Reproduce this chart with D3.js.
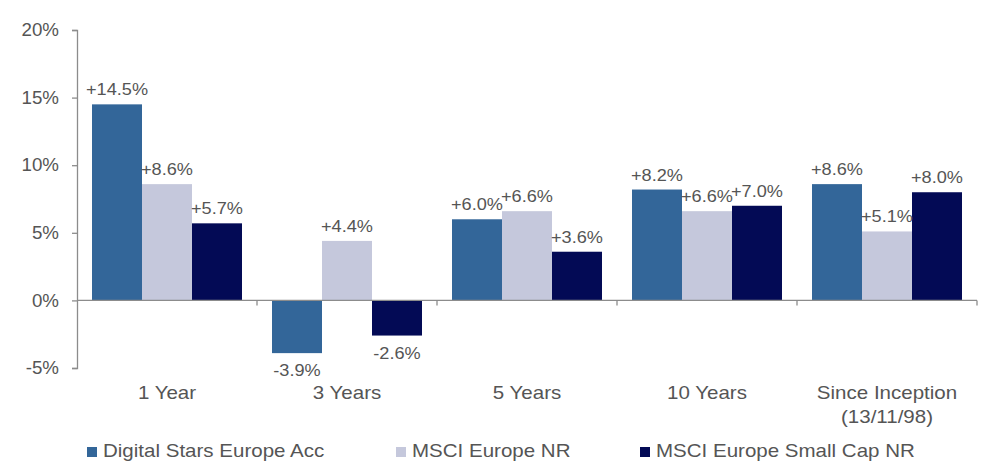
<!DOCTYPE html>
<html><head><meta charset="utf-8">
<script src="https://cdn.jsdelivr.net/npm/d3@7"></script>
<style>
body{margin:0;background:#fff;}
svg{display:block;font-family:"Liberation Sans",Arial,sans-serif;}
</style></head>
<body>
<svg id="chart" width="1008" height="475"></svg>
<script>
const categories = ["1 Year", "3 Years", "5 Years", "10 Years", "Since Inception\n(13/11/98)"];
const seriesNames = ["Digital Stars Europe Acc", "MSCI Europe NR", "MSCI Europe Small Cap NR"];
const digitalStars = [14.5, -3.9, 6.0, 8.2, 8.6];
const msciEurope = [8.6, 4.4, 6.6, 6.6, 5.1];
const msciSmallCap = [5.7, -2.6, 3.6, 7.0, 8.0];
const yTicks = [-5, 0, 5, 10, 15, 20];
const colors = ["#336699", "#c5c8dc", "#030a55"];

const series = [digitalStars, msciEurope, msciSmallCap];
const svg = d3.select("#chart");
const textColor = "#555555";
const axisColor = "#8c8c8c";

const y = d3.scaleLinear().domain([-5, 20]).range([368, 30]);
const x0 = d3.scaleBand().domain(categories).range([77, 977]).paddingInner(1/6).paddingOuter(1/12);
const x1 = d3.scaleBand().domain(d3.range(series.length)).range([0, x0.bandwidth()]);

// bars
const groups = svg.append("g").selectAll("g").data(categories).join("g")
  .attr("transform", d => `translate(${x0(d)},0)`);
groups.selectAll("rect").data((c, ci) => series.map((s, si) => ({si, v: s[ci]}))).join("rect")
  .attr("x", d => x1(d.si))
  .attr("width", x1.bandwidth())
  .attr("y", d => y(Math.max(0, d.v)))
  .attr("height", d => Math.abs(y(d.v) - y(0)))
  .attr("fill", d => colors[d.si]);

// labels (slightly wide text to match the reference's horizontal stretch)
groups.selectAll("text").data((c, ci) => series.map((s, si) => ({si, v: s[ci]}))).join("text")
  .attr("transform", d => `translate(${x1(d.si) + x1.bandwidth() / 2},${d.v >= 0 ? y(d.v) - 9 : y(d.v) + 23}) scale(1.1,1)`)
  .attr("text-anchor", "middle")
  .attr("font-size", 16.5)
  .attr("fill", textColor)
  .text(d => (d.v >= 0 ? "+" : "") + d.v.toFixed(1) + "%");

// y axis
const yAxis = d3.axisLeft(y).tickValues(yTicks).tickSize(5).tickPadding(13).tickFormat(d => d + "%");
const ga = svg.append("g").attr("transform", "translate(77,0)").call(yAxis);
ga.select(".domain").attr("stroke", axisColor).attr("stroke-width", 1.3);
ga.selectAll(".tick line").attr("stroke", axisColor).attr("stroke-width", 1.3);
ga.selectAll(".tick text").each(function() {
  const t = d3.select(this);
  const tx = +t.attr("x");
  t.attr("x", null).attr("transform", `translate(${tx},0) scale(1.07,1)`);
}).attr("font-size", 17.5).attr("fill", textColor).attr("font-family", "Liberation Sans, Arial, sans-serif");

// zero line with category ticks
svg.append("line").attr("x1", 77).attr("x2", 977).attr("y1", y(0)).attr("y2", y(0))
  .attr("stroke", axisColor).attr("stroke-width", 1.3);
const boundaries = categories.map(c => x0(c) - x0.step() * x0.paddingInner() / 2).concat([977]);
svg.append("g").selectAll("line").data(boundaries.slice(1)).join("line")
  .attr("x1", d => d).attr("x2", d => d).attr("y1", y(0)).attr("y2", y(0) + 5)
  .attr("stroke", axisColor).attr("stroke-width", 1.3);

// category labels
svg.append("g").selectAll("text").data(categories).join("text")
  .attr("transform", d => `translate(${x0(d) + x0.bandwidth() / 2},399) scale(1.14,1)`)
  .attr("text-anchor", "middle")
  .attr("font-size", 18)
  .attr("fill", textColor)
  .each(function(d) {
    const lines = d.split("\n");
    d3.select(this).selectAll("tspan").data(lines).join("tspan")
      .attr("x", 0)
      .attr("dy", (l, i) => i === 0 ? 0 : 24)
      .text(l => l);
  });

// legend
const legendX = [87, 396, 640];
const legend = svg.append("g").selectAll("g").data(seriesNames).join("g")
  .attr("transform", (d, i) => `translate(${legendX[i]},447)`);
legend.append("rect").attr("width", 10).attr("height", 10).attr("fill", (d, i) => colors[i]);
legend.append("text").attr("transform", "translate(16,10) scale(1.14,1)").attr("font-size", 18).attr("fill", textColor).text(d => d);
</script>
</body></html>
